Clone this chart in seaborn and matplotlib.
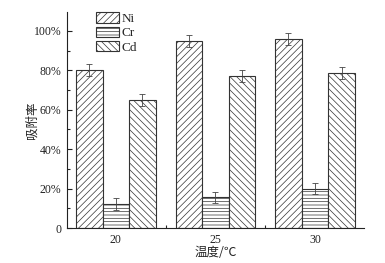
import numpy as np
import pandas as pd
import matplotlib
matplotlib.use('Agg')
import matplotlib.pyplot as plt
from matplotlib.ticker import FuncFormatter, MultipleLocator, FixedLocator
from matplotlib.patches import Patch
import seaborn as sns

temps = ['20', '25', '30']
metals = ['Ni', 'Cr', 'Cd']
ni = [80, 95, 96]
cr = [12, 15.5, 20]
cd = [65, 77, 78.5]
ni_err = [3, 3, 3]
cr_err = [3, 3, 3]
cd_err = [3, 3, 3]
hatches = ['/////', '-----', '\\\\\\\\\\']

sns.set_style('ticks')
plt.rcParams['font.family'] = ['Liberation Serif', 'Noto Sans CJK SC', 'DejaVu Sans']
plt.rcParams['hatch.linewidth'] = 0.5
plt.rcParams['hatch.color'] = '#666666'

df = pd.DataFrame({
    'temp': temps * 3,
    'rate': ni + cr + cd,
    'metal': [m for m in metals for _ in temps],
})
errs = [ni_err, cr_err, cd_err]

fig = plt.figure(figsize=(3.85, 2.63), dpi=100)
ax = fig.add_axes([0.174, 0.133, 0.771, 0.821])

sns.barplot(data=df, x='temp', y='rate', hue='metal', hue_order=metals,
            order=temps, width=0.8, errorbar=None, ax=ax, legend=False)

edge = '#333333'
for cont, h, e in zip(ax.containers, hatches, errs):
    xs, ys = [], []
    for p in cont:
        p.set_facecolor('white')
        p.set_edgecolor(edge)
        p.set_linewidth(0.8)
        p.set_hatch(h)
        xs.append(p.get_x() + p.get_width() / 2)
        ys.append(p.get_height())
    ax.errorbar(xs, ys, yerr=e, fmt='none', ecolor='#444444', elinewidth=0.6,
                capsize=2, capthick=0.6)

ax.set_xlim(-0.49, 2.49)
ax.set_ylim(0, 109.5)
ax.yaxis.set_major_locator(MultipleLocator(20))
ax.yaxis.set_minor_locator(MultipleLocator(10))
ax.yaxis.set_major_formatter(FuncFormatter(lambda v, p: '0' if v == 0 else f'{int(v)}%'))
ax.xaxis.set_minor_locator(FixedLocator([0.5, 1.5]))
ax.tick_params(axis='both', which='major', direction='in', length=3.5, width=0.8,
               labelsize=8.5, pad=4, colors='#222222')
ax.tick_params(axis='both', which='minor', direction='in', length=2, width=0.8)
for s in ['top', 'right']:
    ax.spines[s].set_visible(False)
for s in ['left', 'bottom']:
    ax.spines[s].set_linewidth(0.8)
    ax.spines[s].set_color('#222222')

ax.set_xlabel('温度/℃', fontsize=9, labelpad=0, family=['Noto Sans CJK SC', 'DejaVu Sans'])
ax.set_ylabel('吸附率', fontsize=9, labelpad=-3.5, family=['Noto Sans CJK SC', 'DejaVu Sans'])

handles = [Patch(facecolor='white', edgecolor=edge, hatch=h, linewidth=0.8, label=m)
           for m, h in zip(metals, hatches)]
ax.legend(handles=handles, loc='upper left', bbox_to_anchor=(0.098, 1.0), frameon=False,
          fontsize=9.5, handlelength=1.75, handleheight=0.85, labelspacing=0.12,
          handletextpad=0.2, borderpad=0, borderaxespad=0)

fig.savefig('out.png', dpi=100)
